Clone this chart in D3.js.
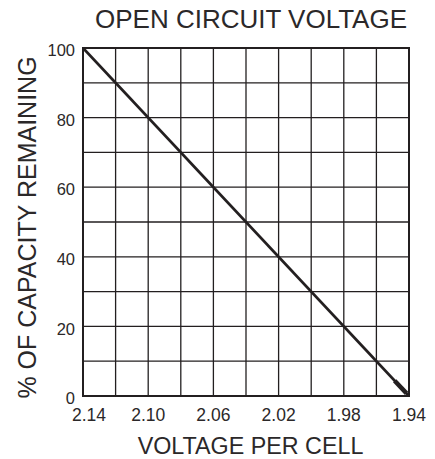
<!DOCTYPE html>
<html><head><meta charset="utf-8">
<script src="https://cdn.jsdelivr.net/npm/d3@7"></script>
<style>body{margin:0;background:#fff}svg{display:block}text{font-family:"Liberation Sans",Arial,sans-serif;fill:#2b2829}</style>
</head><body>
<script>
const voltageTicks = [2.14, 2.12, 2.10, 2.08, 2.06, 2.04, 2.02, 2.00, 1.98, 1.96, 1.94];
const voltageLabels = [2.14, 2.10, 2.06, 2.02, 1.98, 1.94];
const capacityTicks = [0, 10, 20, 30, 40, 50, 60, 70, 80, 90, 100];
const capacityLabels = [0, 20, 40, 60, 80, 100];
const lineVoltage = [2.14, 1.94];
const lineCapacity = [100, 0];
const boldVoltage = [1.9488, 1.9415];
const boldCapacity = [4.4, 0.75];

const W = 435, H = 459;
const m = {l: 83, r: 26, t: 48, b: 63};
const svg = d3.select("body").append("svg").attr("width", W).attr("height", H);
const x = d3.scaleLinear().domain([2.14, 1.94]).range([m.l, W - m.r]);
const y = d3.scaleLinear().domain([0, 100]).range([H - m.b, m.t]);
const ink = "#231f20";

const g = svg.append("g");
g.selectAll(".vg").data(voltageTicks).join("line")
  .attr("x1", d => x(d)).attr("x2", d => x(d)).attr("y1", y(0)).attr("y2", y(100))
  .attr("stroke", ink).attr("stroke-width", 1.3);
g.selectAll(".hg").data(capacityTicks).join("line")
  .attr("y1", d => y(d)).attr("y2", d => y(d)).attr("x1", x(2.14)).attr("x2", x(1.94))
  .attr("stroke", ink).attr("stroke-width", 1.3);
g.append("rect").attr("x", x(2.14)).attr("y", y(100)).attr("width", x(1.94) - x(2.14)).attr("height", y(0) - y(100))
  .attr("fill", "none").attr("stroke", ink).attr("stroke-width", 2);

const pts = lineVoltage.map((v, i) => [v, lineCapacity[i]]);
const line = d3.line().x(d => x(d[0])).y(d => y(d[1]));
g.append("path").attr("d", line(pts)).attr("fill", "none").attr("stroke", ink).attr("stroke-width", 2.6);
const bpts = boldVoltage.map((v, i) => [v, boldCapacity[i]]);
g.append("path").attr("d", line(bpts)).attr("fill", "none").attr("stroke", ink).attr("stroke-width", 4.5);

// x tick labels
svg.selectAll(".xt").data(voltageLabels).join("text")
  .attr("x", (d, i) => x(d) + (i === 0 ? 6 : 0)).attr("y", 421)
  .attr("text-anchor", "middle").attr("font-size", 17.5)
  .text(d => d.toFixed(2));
// y tick labels
svg.selectAll(".yt").data(capacityLabels).join("text")
  .attr("x", 75).attr("y", d => y(d)).attr("dy", "0.5em")
  .attr("text-anchor", "end").attr("font-size", 16.5)
  .text(d => d);

svg.append("text").attr("x", 251).attr("y", 28).attr("text-anchor", "middle").attr("font-size", 26)
  .text("OPEN CIRCUIT VOLTAGE");
svg.append("text").attr("x", 250.5).attr("y", 454).attr("text-anchor", "middle").attr("font-size", 23.3)
  .text("VOLTAGE PER CELL");
svg.append("text").attr("transform", "translate(36,227.5) rotate(-90)").attr("text-anchor", "middle").attr("font-size", 25)
  .text("% OF CAPACITY REMAINING");
</script>
</body></html>
